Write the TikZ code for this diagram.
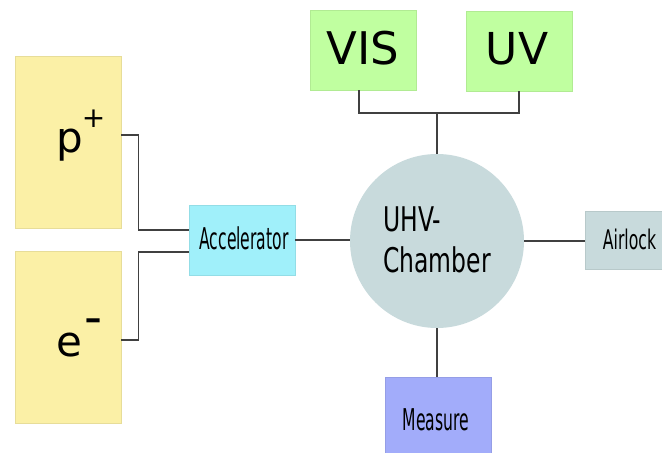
\documentclass[tikz,border=0pt]{standalone}
\usepackage{fontspec}
\setmainfont{DejaVu Sans}
\usepackage{graphicx}
\newcommand{\fsz}[1]{\fontsize{#1bp}{#1bp}\selectfont}
\definecolor{cyel}{RGB}{251,240,166}
\definecolor{ccyan}{RGB}{160,240,250}
\definecolor{cgreen}{RGB}{192,255,160}
\definecolor{cgrey}{RGB}{200,218,220}
\definecolor{cblue}{RGB}{162,172,250}
\definecolor{cline}{RGB}{64,64,64}
\tikzset{
  boxbase/.style={rectangle, inner sep=0pt, draw=#1!92!black, line width=0.4bp, fill=#1},
  txt/.style={inner sep=0pt, text=black},
  conn/.style={draw=cline, line width=1.2bp},
}
\begin{document}
\begin{tikzpicture}[x=1bp,y=-1bp]
\useasboundingbox (0,0) rectangle (662,453);
% boxes
\node[boxbase=cyel, minimum width=106bp, minimum height=172bp] (p) at (68,142) {};
\node[boxbase=cyel, minimum width=106bp, minimum height=172bp] (e) at (68,337) {};
\node[boxbase=ccyan, minimum width=106bp, minimum height=70bp] (acc) at (242,240) {};
\node[boxbase=cgreen, minimum width=106bp, minimum height=80bp] (vis) at (363,50) {};
\node[boxbase=cgreen, minimum width=106bp, minimum height=80bp] (uv) at (519,51) {};
\node[circle, inner sep=0pt, fill=cgrey, minimum size=174bp] (ch) at (437,241) {};
\node[boxbase=cgrey, minimum width=78bp, minimum height=58bp] (air) at (624,240) {};
\node[boxbase=cblue, minimum width=106bp, minimum height=78bp] (meas) at (438,416) {};
% texts
\node[txt] (ptxt) at (70,145) {\fsz{42}p};
\node[txt] (pplus) at (93.5,119) {\fsz{28}+};
\node[txt] (etxt) at (69,345) {\fsz{42}e};
\node[txt] (eminus) at (93.5,326.5) {\fsz{50}-};
\node[txt] (vistxt) at (363,48.5) {\fsz{45}VIS};
\node[txt] (uvtxt) at (517,49) {\fsz{44}UV};
\node[txt, anchor=base west] (uhv) at (383,232) {\fsz{34}\scalebox{0.69}[1]{UHV-}};
\node[txt, anchor=base west] (chtxt) at (383,273) {\fsz{34}\scalebox{0.69}[1]{Chamber}};
\node[txt, anchor=base] (acctxt) at (244,250) {\fsz{30}\scalebox{0.52}[1]{Accelerator}};
\node[txt, anchor=base] (airtxt) at (629.5,250) {\fsz{27}\scalebox{0.58}[1]{Airlock}};
\node[txt, anchor=base] (meastxt) at (436,430) {\fsz{30}\scalebox{0.52}[1]{Measure}};
% connectors
\draw[conn] ([yshift=7bp]p.east) -- ++(17,0) |- ([yshift=10bp]acc.west);
\draw[conn] ([yshift=-3bp]e.east) -- ++(17,0) |- ([yshift=-12bp]acc.west);
\draw[conn] (acc.east) -- (acc.east -| ch.west);
\draw[conn] (ch.east) -- (ch.east -| air.west);
\draw[conn] (ch.south) -- (ch.south |- meas.north);
\coordinate (jn) at (437,113);
\draw[conn] ([xshift=-4bp]vis.south) |- (jn) -| (uv.south);
\draw[conn] (jn) -- (ch.north);
\end{tikzpicture}
\end{document}
